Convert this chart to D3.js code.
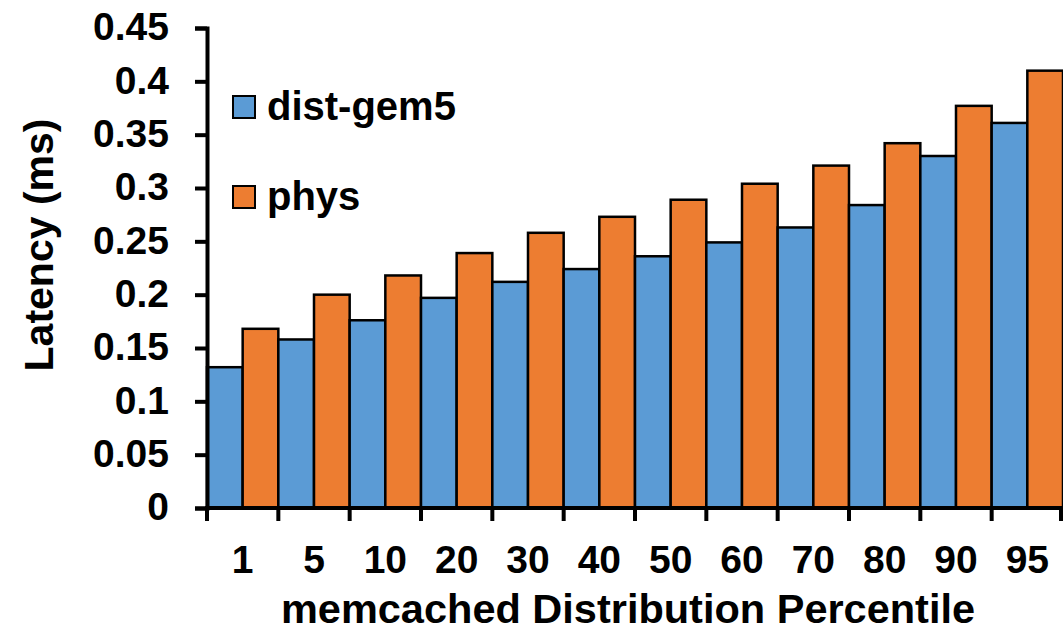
<!DOCTYPE html>
<html>
<head>
<meta charset="utf-8">
<script src="https://cdn.jsdelivr.net/npm/d3@7"></script>
<style>
  body { margin: 0; background: #fff; }
  text { font-family: "Liberation Sans", Arial, sans-serif; font-weight: bold; fill: #000; }
</style>
</head>
<body>
<div id="chart"></div>
<script>
var w = 1063;
var h = 633;

// data
var percentiles = ["1", "5", "10", "20", "30", "40", "50", "60", "70", "80", "90", "95"];
var distGem5 = [0.132, 0.158, 0.176, 0.197, 0.212, 0.224, 0.236, 0.249, 0.263, 0.284, 0.330, 0.361];
var phys = [0.168, 0.200, 0.218, 0.239, 0.258, 0.273, 0.289, 0.304, 0.321, 0.342, 0.377, 0.410];
var seriesNames = ["dist-gem5", "phys"];
var seriesColors = ["#5B9BD5", "#ED7D31"];
var yTicks = [0, 0.05, 0.1, 0.15, 0.2, 0.25, 0.3, 0.35, 0.4, 0.45];

var mLeft = 207, mRight = 1063, mTop = 28, mBottom = 508;

var svg = d3.select("#chart")
            .append("svg")
            .attr("width", w)
            .attr("height", h);

var x = d3.scaleBand()
          .domain(percentiles)
          .range([mLeft, mRight])
          .padding(0);

var xInner = d3.scaleBand()
               .domain(seriesNames)
               .range([0, x.bandwidth()])
               .padding(0);

var y = d3.scaleLinear()
          .domain([0, 0.45])
          .range([mBottom, mTop]);

var rows = percentiles.map(function(p, i) {
    return { p: p, values: [distGem5[i], phys[i]] };
});

var groups = svg.selectAll("g.group")
                .data(rows)
                .enter()
                .append("g")
                .attr("class", "group")
                .attr("transform", function(d) { return "translate(" + x(d.p) + ",0)"; });

groups.selectAll("rect")
      .data(function(d) { return d.values; })
      .enter()
      .append("rect")
      .attr("x", function(d, i) { return xInner(seriesNames[i]); })
      .attr("y", function(d) { return y(d); })
      .attr("width", xInner.bandwidth())
      .attr("height", function(d) { return y(0) - y(d); })
      .attr("fill", function(d, i) { return seriesColors[i]; })
      .attr("stroke", "#000")
      .attr("stroke-width", 2.5);

// y axis
var yAxis = svg.append("g")
               .attr("transform", "translate(" + mLeft + ",0)")
               .call(d3.axisLeft(y).tickValues(yTicks).tickSize(12).tickPadding(26)
                     .tickFormat(function(d) { return String(+d.toFixed(2)); }));
yAxis.select(".domain").attr("stroke-width", 4);
yAxis.selectAll(".tick line").attr("stroke-width", 4);
yAxis.selectAll("text").style("font-size", "39px").attr("dy", "0.3em");

// x axis: ticks on group boundaries
var xAxis = svg.append("g")
               .attr("transform", "translate(0," + mBottom + ")");
xAxis.append("line")
     .attr("x1", mLeft - 2).attr("x2", mRight)
     .attr("stroke", "#000").attr("stroke-width", 4);
var bounds = percentiles.map(function(p) { return x(p); }).concat([mRight]);
xAxis.selectAll("line.tk")
     .data(bounds)
     .enter()
     .append("line")
     .attr("class", "tk")
     .attr("x1", function(d) { return Math.min(d, mRight - 2); })
     .attr("x2", function(d) { return Math.min(d, mRight - 2); })
     .attr("y1", 0).attr("y2", 13)
     .attr("stroke", "#000").attr("stroke-width", 4);
xAxis.selectAll("text.lbl")
     .data(percentiles)
     .enter()
     .append("text")
     .attr("class", "lbl")
     .attr("x", function(d) { return x(d) + x.bandwidth() / 2; })
     .attr("y", 65)
     .attr("text-anchor", "middle")
     .style("font-size", "39px")
     .text(function(d) { return d; });

// axis titles
svg.append("text")
   .attr("x", 628)
   .attr("y", 623)
   .attr("text-anchor", "middle")
   .style("font-size", "41.5px")
   .text("memcached Distribution Percentile");

svg.append("text")
   .attr("transform", "translate(53,245) rotate(-90)")
   .attr("text-anchor", "middle")
   .style("font-size", "41px")
   .text("Latency (ms)");

// legend
var legend = svg.selectAll("g.legend")
                .data(seriesNames)
                .enter()
                .append("g")
                .attr("class", "legend")
                .attr("transform", function(d, i) { return "translate(233," + (96 + i * 90) + ")"; });
legend.append("rect")
      .attr("width", 22).attr("height", 22)
      .attr("fill", function(d, i) { return seriesColors[i]; })
      .attr("stroke", "#000").attr("stroke-width", 2);
legend.append("text")
      .attr("x", 34)
      .attr("y", 24)
      .style("font-size", "40px")
      .text(function(d) { return d; });
</script>
</body>
</html>
